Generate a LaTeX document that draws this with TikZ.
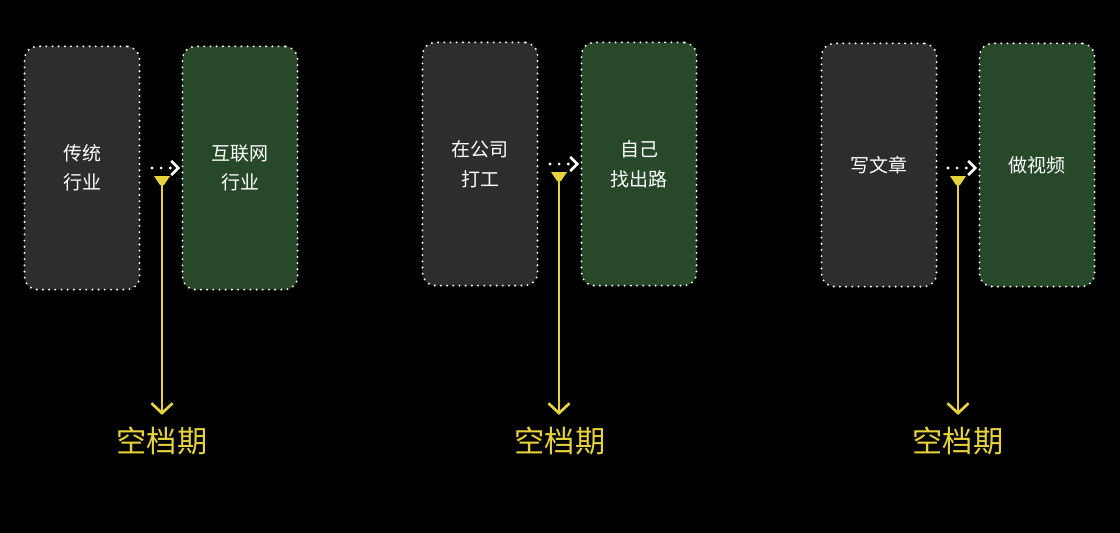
\documentclass[tikz,border=0pt]{standalone}
\usepackage{fontspec}
\setmainfont{Noto Sans CJK SC}
\usetikzlibrary{positioning}
\usetikzlibrary{calc}
\usetikzlibrary{arrows.meta}
\usepackage{xcolor}
\definecolor{boxgrey}{HTML}{2D2D2D}
\definecolor{boxgreen}{HTML}{274829}
\definecolor{gapyellow}{HTML}{E6D23A}

\begin{document}
\begin{tikzpicture}[x=0.025cm, y=-0.025cm,
        b/.style={draw=white, line width=1.5pt, line cap=round, dash pattern=on 0pt off 4.4pt, rounded corners=0.32cm, minimum width=2.875cm, minimum height=6.08cm, text=white, align=center, font=\fontsize{13.5}{21}\selectfont},
        old/.style={b, fill=boxgrey},
        new/.style={b, fill=boxgreen},
        hop/.style={draw=white, line width=2.2pt, line cap=round, dash pattern=on 0pt off 6.5pt, -{Straight Barb[length=5pt, width=10pt, line width=1.8pt]}, shorten >=1pt},
        gap/.style={text=gapyellow, font=\fontsize{21.5}{24}\selectfont},
        drop/.style={draw=gapyellow, line width=1.9pt, -{Straight Barb[length=7pt, width=15pt, line width=1.9pt]}, shorten >=5pt}]
    \useasboundingbox[fill=black] (0, 0) rectangle (1120, 533);

    \node[old] (a1) at (82, 168) {传统\\行业};
    \node[new] (b1) at (240, 168) {互联网\\行业};
    \node[old] (a2) at (480, 164) {在公司\\打工};
    \node[new] (b2) at (639, 164) {自己\\找出路};
    \node[old] (a3) at (879, 165) {写文章};
    \node[new] (b3) at (1037, 165) {做视频};

    \node[gap] (g1) at (162, 441) {空档期};
    \node[gap] (g2) at (560, 441) {空档期};
    \node[gap] (g3) at (958, 441) {空档期};

    \coordinate (s1) at (152, 168);
    \coordinate (s2) at (550, 164);
    \coordinate (s3) at (948, 168);
    \coordinate (t1) at (162, 176);
    \coordinate (t2) at (559, 172);
    \coordinate (t3) at (958, 176);

    \draw[hop] (s1) -- (s1 -| b1.west);
    \draw[hop] (s2) -- (s2 -| b2.west);
    \draw[hop] (s3) -- (s3 -| b3.west);

    % funnel tops of the yellow arrows
    \fill[gapyellow] ($(t1)+(-8,0)$) -- ($(t1)+(8,0)$) -- ($(t1)+(2,9)$) -- ($(t1)+(-2,9)$) -- cycle;
    \fill[gapyellow] ($(t2)+(-8,0)$) -- ($(t2)+(8,0)$) -- ($(t2)+(2,9)$) -- ($(t2)+(-2,9)$) -- cycle;
    \fill[gapyellow] ($(t3)+(-8,0)$) -- ($(t3)+(8,0)$) -- ($(t3)+(2,9)$) -- ($(t3)+(-2,9)$) -- cycle;

    \draw[drop] (t1) -- (g1.north -| t1);
    \draw[drop] (t2) -- (g2.north -| t2);
    \draw[drop] (t3) -- (g3.north -| t3);
\end{tikzpicture}
\end{document}
